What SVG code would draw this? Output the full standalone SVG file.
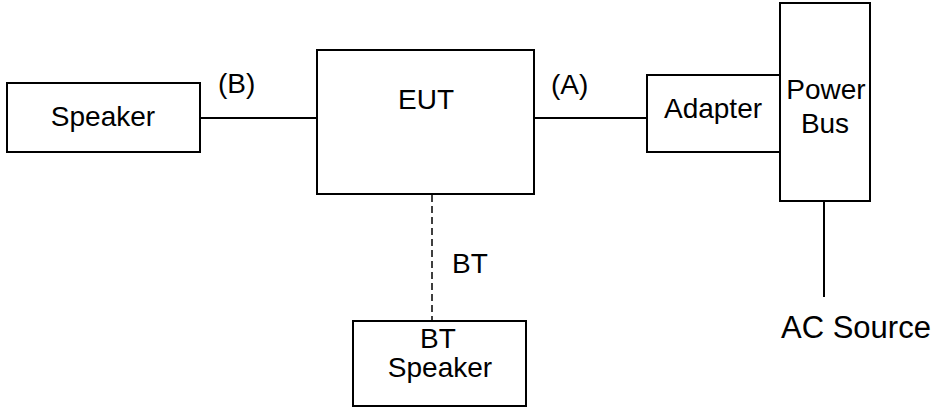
<svg xmlns="http://www.w3.org/2000/svg" width="937" height="407" viewBox="0 0 937 407">
<style>
.box{fill:#fff;stroke:#000;stroke-width:2}
.ln{stroke:#000;stroke-width:2;fill:none}
.dash{stroke:#000;stroke-width:1.5;fill:none;stroke-dasharray:7 4}
text{font-family:"Liberation Sans",Arial,sans-serif;font-size:28px;fill:#000}
.c{text-anchor:middle}
</style>
<rect width="937" height="407" fill="#fff"/>
<g id="connectors">
<line class="ln" x1="200" y1="118" x2="317" y2="118"/>
<line class="ln" x1="534" y1="118" x2="647" y2="118"/>
<line class="ln" x1="824" y1="201" x2="824" y2="297"/>
<line class="dash" x1="432" y1="195" x2="432" y2="320"/>
<text x="218" y="93">(B)</text>
<text x="551" y="94">(A)</text>
<text x="452" y="273">BT</text>
</g>
<g id="speaker">
<rect class="box" x="7" y="83" width="193" height="69"/>
<text class="c" x="103" y="126">Speaker</text>
</g>
<g id="eut">
<rect class="box" x="317" y="50" width="217" height="144"/>
<text class="c" x="426" y="109">EUT</text>
</g>
<g id="adapter">
<rect class="box" x="647" y="75" width="133" height="77"/>
<text class="c" x="713" y="118">Adapter</text>
</g>
<g id="powerbus">
<rect class="box" x="780" y="3" width="90" height="198"/>
<text class="c" x="826" y="99">Power</text>
<text class="c" x="825" y="133">Bus</text>
</g>
<g id="acsource">
<text x="781" y="338" style="font-size:31px">AC Source</text>
</g>
<g id="btspeaker">
<rect class="box" x="353" y="321" width="173" height="85"/>
<text class="c" x="438" y="348">BT</text>
<text class="c" x="440" y="377">Speaker</text>
</g>
</svg>
